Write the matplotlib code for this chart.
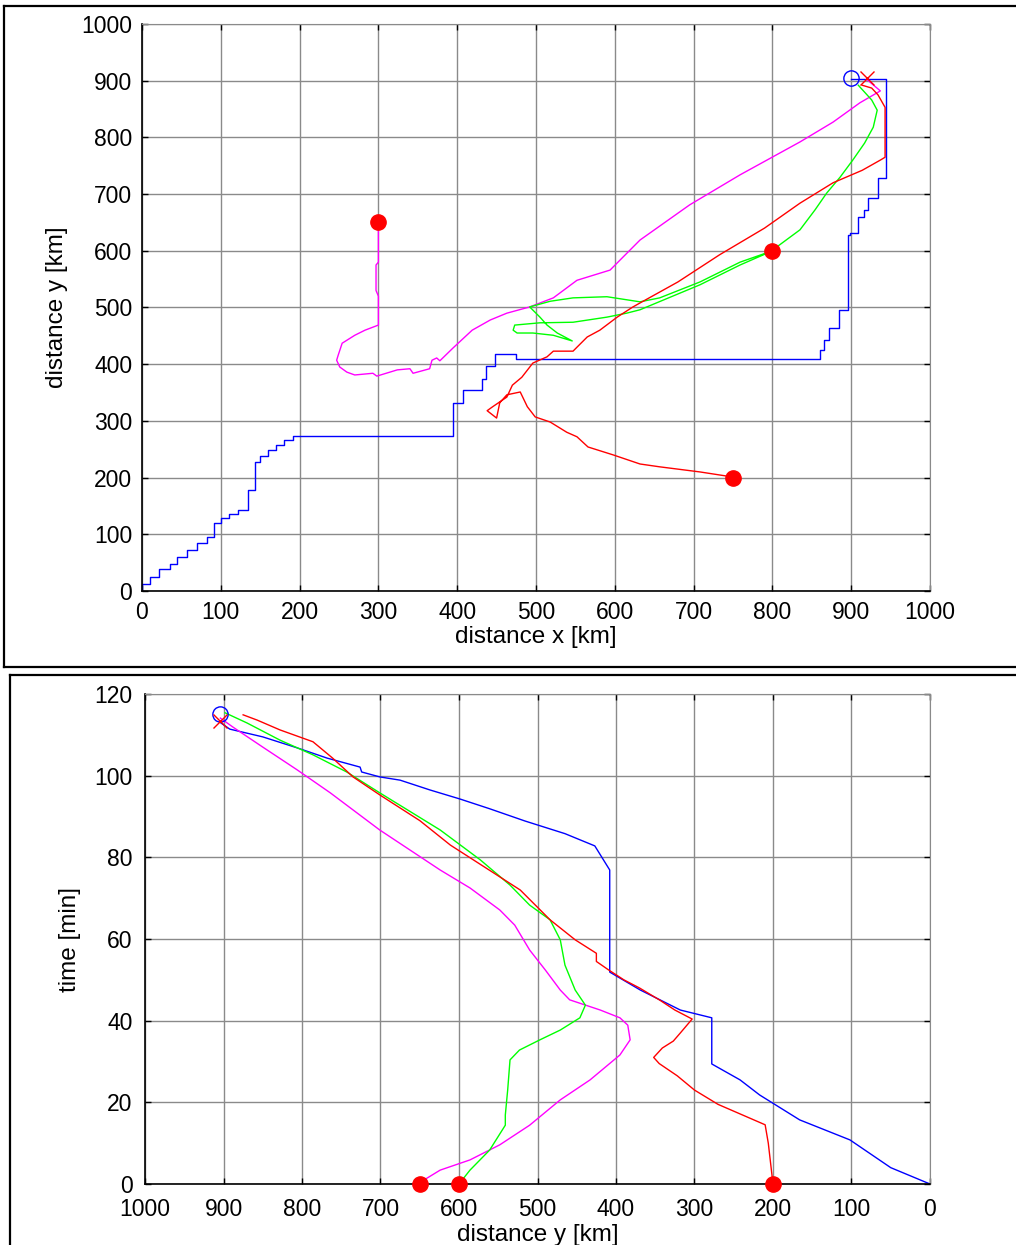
import matplotlib
matplotlib.use("Agg")
import matplotlib.pyplot as plt
from matplotlib.lines import Line2D

plt.rcParams['font.family'] = ['Liberation Sans', 'DejaVu Sans']

# ---- upper plot: x / y position [km] ----
blue_x = [0, 10, 22, 35, 45, 57, 70, 82, 92, 100, 110, 122, 135, 143, 150, 160, 170, 180, 192, 210,
          395, 407, 431, 437, 448, 475, 860, 866, 872, 884, 896, 898, 909, 916, 921, 934, 944, 900]
blue_y = [0, 12, 25, 38, 48, 60, 72, 85, 95, 120, 128, 135, 142, 178, 228, 238, 248, 258, 266, 273,
          273, 331, 355, 374, 397, 418, 409, 425, 443, 464, 496, 628, 632, 660, 672, 693, 728, 903]

red_x = [750, 708, 657, 632, 598, 566, 552, 539, 518, 499, 489, 480, 463, 454, 450,
         438, 445, 463, 470, 482, 496, 514, 522, 547, 552, 565, 581, 603, 623, 632, 680, 733, 790,
         835, 877, 914, 937, 943, 943, 934, 926, 914]
red_y = [201, 210, 219, 224, 240, 254, 272, 280, 298, 307, 325, 351, 346, 332, 305,
         318, 325, 342, 363, 377, 402, 413, 423, 423, 430, 448, 460, 483, 501, 508, 545, 593, 640,
         684, 720, 742, 760, 765, 853, 875, 887, 892]

green_x = [800, 759, 708, 657, 632, 590, 547, 518, 492, 505, 514, 527, 546, 522, 496, 476, 471, 473,
           505, 547, 590, 615, 632, 708, 759, 797, 835, 854, 869, 886, 902, 917, 928, 933, 926, 909]
green_y = [600, 580, 545, 517, 510, 519, 517, 511, 501, 483, 469, 455, 441, 451, 455, 455, 460, 469,
           473, 474, 483, 490, 496, 540, 575, 598, 637, 672, 702, 730, 760, 790, 818, 848, 866, 892]

mag_x = [300, 300, 300, 297, 297, 300, 300, 283, 270, 254, 249, 247, 251, 260, 270, 293, 298, 324,
         340, 344, 365, 368, 374, 378, 395, 419, 442, 463, 492, 522, 552, 594, 632, 695, 759, 835,
         877, 911, 937, 920]
mag_y = [651, 620, 580, 575, 530, 520, 469, 460, 451, 437, 416, 407, 395, 386, 381, 384, 379, 390,
         392, 384, 392, 407, 411, 406, 429, 460, 478, 490, 501, 517, 548, 566, 619, 681, 734, 792,
         827, 861, 882, 902]

start_x = [750, 800, 300]
start_y = [200, 600, 650]
target_o = (900, 905)
target_x = (920, 905)

# ---- lower plot: y position [km] over time [min] ----
blue_d = [0, 50, 102, 166, 217, 242, 278, 278, 318, 369, 408, 408, 427, 465, 516, 561, 599, 637,
          675, 701, 724, 726, 768, 806, 850, 892, 904]
blue_t = [0, 4, 10.8, 15.7, 21.8, 25.5, 29.4, 40.7, 42.6, 47.5, 51.9, 76.9, 82.8, 85.8, 88.9, 91.9,
          94.3, 96.5, 98.9, 99.7, 100.9, 102.1, 104.3, 106.8, 109.5, 111.4, 113]

red_d = [200, 203, 206, 210, 240, 270, 300, 322, 345, 352, 341, 327, 318, 303, 325, 344, 370, 390,
         410, 425, 425, 452, 484, 522, 611, 650, 701, 735, 761, 786, 828, 857, 875]
red_t = [0, 5, 10, 14.5, 17, 19.5, 23, 26.5, 29.5, 31, 33.3, 35, 37, 40.4, 42.6, 45, 48, 50,
         52.5, 54.5, 56.5, 59.8, 64.7, 72, 83, 89, 95.3, 99.7, 104.3, 108.3, 111.2, 113.6, 114.9]

green_d = [600, 586, 561, 541, 541, 538, 535, 523, 497, 471, 446, 439, 452, 465, 471, 484, 510, 535,
           573, 624, 701, 743, 786, 828, 870, 898]
green_t = [0, 3.4, 8.3, 14.4, 16.9, 23, 30.4, 32.8, 35.3, 37.7, 40.7, 43.8, 47.5, 53.6, 59.8, 64.7,
           68.3, 73.2, 79.4, 86.7, 95.8, 100.9, 105.1, 108.7, 112.9, 115.4]

mag_d = [653, 624, 586, 548, 510, 471, 433, 395, 382, 385, 395, 420, 459, 471, 490, 510, 529, 548,
         586, 624, 701, 764, 806, 850, 888, 904]
mag_t = [0, 3.4, 5.9, 9.6, 14.4, 20.6, 25.5, 31.6, 35.3, 38.9, 40.7, 42.6, 45.1, 47.5, 52.4, 57.3,
         63.4, 67.1, 72.5, 76.9, 86.7, 95.8, 101.4, 107, 111.9, 114.1]

start_d = [650, 600, 200]
target_d = 905
target_t_o = 115
target_t_x = 113.5

W, H = 1016, 1245
fig = plt.figure(figsize=(W / 100, H / 100), dpi=100)


def style(ax):
    ax.grid(True, color='#8a8a8a', lw=1.0)
    ax.set_axisbelow(True)
    ax.tick_params(direction='in', top=True, right=True, length=4, width=1,
                   labelsize=16.5, color='black')
    for s in ['top', 'right']:
        ax.spines[s].set_color('#8a8a8a')
    for s in ['left', 'bottom']:
        ax.spines[s].set_linewidth(1.2)


lw = 1.0
ax1 = fig.add_axes([142 / W, 1 - 591 / H, 788 / W, 567 / H])
ax1.plot(blue_x, blue_y, color='#0000ff', lw=lw, drawstyle='steps-pre')
ax1.plot(mag_x, mag_y, color='#ff00ff', lw=lw)
ax1.plot(green_x, green_y, color='#00ff00', lw=lw)
ax1.plot(red_x, red_y, color='#ff0000', lw=lw)
ax1.plot(start_x, start_y, 'o', color='#ff0000', ms=11, zorder=5)
ax1.plot(*target_o, 'o', mfc='none', mec='#0000ff', ms=11, mew=1)
ax1.plot(*target_x, 'x', color='#ff0000', ms=10, mew=1)
ax1.set_xlim(0, 1000)
ax1.set_ylim(0, 1000)
ax1.set_xticks(range(0, 1001, 100))
ax1.set_yticks(range(0, 1001, 100))
style(ax1)
ax1.tick_params(axis='x', pad=7)
ax1.tick_params(axis='y', pad=7)
ax1.set_xlabel('distance x [km]', fontsize=17.5)
ax1.set_ylabel('distance y [km]', fontsize=17.5)
ax1.xaxis.set_label_coords(0.5, (591 - 637) / 567)
ax1.xaxis.label.set_va('center')
ax1.yaxis.set_label_coords((57 - 142) / 788, 0.5)
ax1.yaxis.label.set_va('center')

ax2 = fig.add_axes([145 / W, 1 - 1184 / H, 785 / W, 490 / H])
ax2.plot(blue_d, blue_t, color='#0000ff', lw=lw)
ax2.plot(mag_d, mag_t, color='#ff00ff', lw=lw)
ax2.plot(green_d, green_t, color='#00ff00', lw=lw)
ax2.plot(red_d, red_t, color='#ff0000', lw=lw)
ax2.plot(start_d, [0, 0, 0], 'o', color='#ff0000', ms=11, zorder=5, clip_on=False)
ax2.plot(target_d, target_t_o, 'o', mfc='none', mec='#0000ff', ms=11, mew=1)
ax2.plot(target_d, target_t_x, 'x', color='#ff0000', ms=10, mew=1)
ax2.set_xlim(1000, 0)
ax2.set_ylim(0, 120)
ax2.set_xticks(range(0, 1001, 100))
ax2.set_yticks(range(0, 121, 20))
style(ax2)
ax2.tick_params(axis='x', pad=10)
ax2.tick_params(axis='y', pad=9)
ax2.set_xlabel('distance y [km]', fontsize=17.5)
ax2.set_ylabel('time [min]', fontsize=17.5)
ax2.xaxis.set_label_coords(0.5, (1184 - 1235) / 490)
ax2.xaxis.label.set_va('center')
ax2.yaxis.set_label_coords((70 - 145) / 785, 0.5)
ax2.yaxis.label.set_va('center')

# window frames around the two panels
def frame_line(x0, y0, x1, y1):
    fig.add_artist(Line2D([x0 / W, x1 / W], [1 - y0 / H, 1 - y1 / H],
                          transform=fig.transFigure, color='black', lw=1.6))

frame_line(4, 5.5, W, 5.5)
frame_line(4, 5.5, 4, 667)
frame_line(4, 667, W, 667)
frame_line(10, 675, W, 675)
frame_line(10, 675, 10, H)

fig.savefig('out.png', dpi=100)
